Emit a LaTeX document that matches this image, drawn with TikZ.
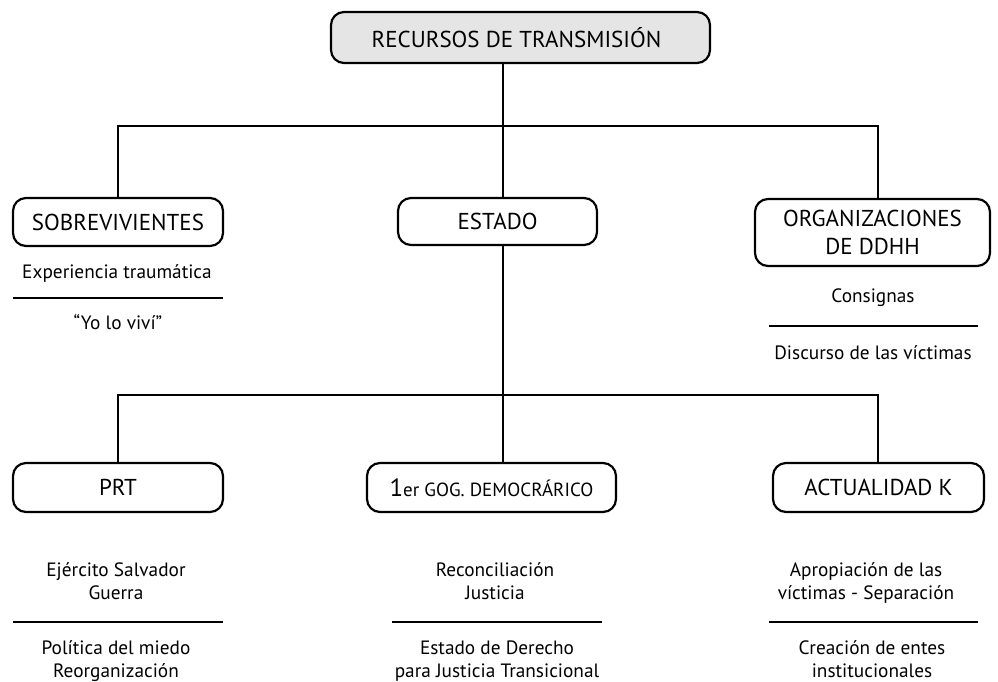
\documentclass[tikz,border=0pt]{standalone}
\usepackage{fontspec}
\setmainfont{PT Sans}
\definecolor{boxgray}{RGB}{229,229,229}
\begin{document}
\begin{tikzpicture}[x=1pt,y=-1pt,
  box/.style={draw, line width=2.2pt, rounded corners=13pt, inner sep=0pt, align=center, font=\fontsize{23}{28}\selectfont},
  conn/.style={line width=2pt},
  sepline/.style={line width=2.5pt},
  txt/.style={anchor=north, inner sep=0pt, align=center, font=\fontsize{19.3}{23}\selectfont}]
\useasboundingbox (0,0) rectangle (998,682);

% boxes
\node[box, fill=boxgray, minimum width=379pt, minimum height=51pt] (top) at (520.5,37.5) {RECURSOS DE TRANSMISIÓN\hspace*{8pt}};
\node[box, minimum width=210pt, minimum height=48pt] (sob) at (118,222) {SOBREVIVIENTES};
\node[box, minimum width=199pt, minimum height=47pt] (est) at (497.5,221.5) {ESTADO};
\node[box, minimum width=235pt, minimum height=67pt] (org) at (872.5,232.5) {ORGANIZACIONES\\DE DDHH};
\node[box, minimum width=210pt, minimum height=49pt] (prt) at (118,487.5) {PRT};
\node[box, minimum width=249pt, minimum height=49pt] (gog) at (491.5,487.5) {{\fontsize{25}{28}\selectfont 1}{\fontsize{19}{28}\selectfont er GOG. DEMOCRÁRICO}};
\node[box, minimum width=211pt, minimum height=49pt] (act) at (878.5,487.5) {ACTUALIDAD K};

% junction coordinates
\coordinate (h1L) at (118,126);
\coordinate (h1C) at (503,126);
\coordinate (h1R) at (878,126);
\coordinate (h2L) at (118,395);
\coordinate (h2C) at (503,395);
\coordinate (h2R) at (878,395);

% connectors
\draw[conn] (top.south -| h1C) -- (est.north -| h1C);
\draw[conn] (sob.north -| h1L) -- (h1L) -- (h1R) -- (org.north -| h1R);
\draw[conn] (est.south -| h2C) -- (h2C);
\draw[conn] (prt.north -| h2L) -- (h2L) -- (h2R) -- (act.north -| h2R);
\draw[conn] (h2C) -- (gog.north -| h2C);

% row 1 texts
\node[txt] (sobA) at (117,262) {Experiencia traumática\strut};
\draw[sepline] (13,298) -- (223,298);
\node[txt] (sobB) at (118,313) {“Yo lo viví”\strut};

\node[txt] (orgA) at (873,286) {Consignas\strut};
\draw[sepline] (769,326) -- (978,326);
\node[txt] (orgB) at (873,343) {Discurso de las víctimas\strut};

% row 2 texts
\node[txt] (prtA) at (116,560) {Ejército Salvador\strut\\Guerra\strut};
\draw[sepline] (13,622) -- (223,622);
\node[txt] (prtB) at (116,638) {Política del miedo\strut\\Reorganización\strut};

\node[txt] (gogA) at (495,560) {Reconciliación\strut\\Justicia\strut};
\draw[sepline] (392,622) -- (602,622);
\node[txt] (gogB) at (497,638) {Estado de Derecho\strut\\para Justicia Transicional\strut};

\node[txt] (actA) at (866,560) {Apropiación de las\strut\\víctimas - Separación\strut};
\draw[sepline] (769,622) -- (978,622);
\node[txt] (actB) at (872,638) {Creación de entes\strut\\institucionales\strut};
\end{tikzpicture}
\end{document}
